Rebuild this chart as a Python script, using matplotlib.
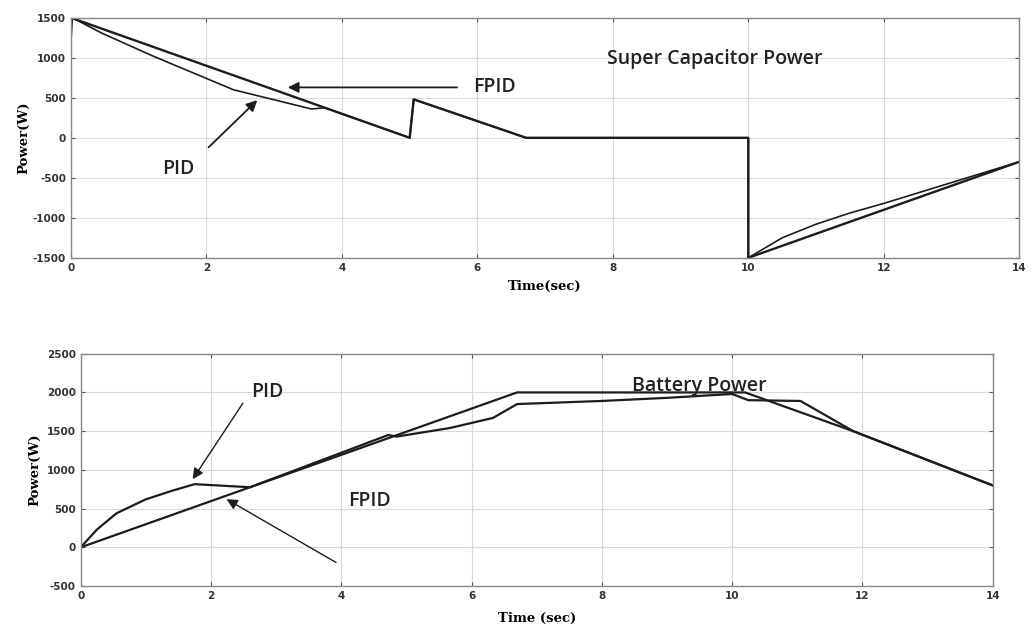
import matplotlib.pyplot as plt

plt.rcParams['axes.unicode_minus'] = False

# Super capacitor power (W) vs time (s)
t_sc_fpid = [0.0, 5.0, 5.06, 6.72, 10.0, 10.0, 14.0]
p_sc_fpid = [1500, 0, 480, 0, 0, -1500, -300]

t_sc_pid = [0.0, 0.02, 0.45, 1.2, 2.4, 3.55, 3.75, 5.0, 5.06, 6.72, 10.0, 10.0,
            10.5, 11.0, 11.5, 12.0, 13.0, 14.0]
p_sc_pid = [1220, 1500, 1310, 1025, 600, 360, 375, 0, 480, 0, 0, -1500,
            -1250, -1080, -940, -820, -560, -300]

# Battery power (W) vs time (s)
t_bat_fpid = [0.0, 6.7, 10.2, 11.86, 14.0]
p_bat_fpid = [0, 2000, 2000, 1500, 800]

t_bat_pid = [0.0, 0.25, 0.55, 1.0, 1.4, 1.75, 2.6, 4.72, 4.85, 5.67, 6.33, 6.7,
             8.0, 9.0, 10.0, 10.25, 11.05, 11.86, 14.0]
p_bat_pid = [0, 230, 440, 620, 730, 816, 776, 1450, 1430, 1541, 1671, 1850,
             1890, 1930, 1980, 1900, 1890, 1500, 800]

xticks = list(range(0, 15, 2))
yticks_sc = list(range(-1500, 1501, 500))
yticks_bat = list(range(-500, 2501, 500))

LINE = '#1c1c1c'
TXT = '#222222'
NOTE = dict(family='Open Sans', fontweight='semibold', fontsize=14, color=TXT,
            ha='center', va='center')

fig = plt.figure(figsize=(10.34, 6.35), dpi=100)
ax1 = fig.add_axes([0.0687, 0.594, 0.917, 0.378])
ax2 = fig.add_axes([0.078, 0.077, 0.882, 0.366])


def style(ax, yticks, ylim):
    ax.set_xlim(0, 14)
    ax.set_ylim(*ylim)
    ax.set_xticks(xticks)
    ax.set_yticks(yticks)
    ax.grid(True, color='#d9d9d9', linewidth=0.8)
    ax.tick_params(direction='in', length=3, top=True, right=True,
                   labelsize=7.5, colors='#555555', labelcolor='#333333')
    for lab in ax.get_xticklabels() + ax.get_yticklabels():
        lab.set_fontweight('bold')
    for s in ax.spines.values():
        s.set_color('#888888')
        s.set_linewidth(1.0)


def arrow(lw):
    return dict(arrowstyle='-|>', color=LINE, lw=lw, mutation_scale=16,
                shrinkA=0, shrinkB=0)


style(ax1, yticks_sc, (-1500, 1500))
ax1.plot(t_sc_pid, p_sc_pid, color=LINE, lw=1.2)
ax1.plot(t_sc_fpid, p_sc_fpid, color=LINE, lw=1.7)
ax1.set_xlabel('Time(sec)', family='DejaVu Serif', fontweight='bold', fontsize=9.5, labelpad=5)
ax1.set_ylabel('Power(W)', family='DejaVu Serif', fontweight='bold', fontsize=9.5, labelpad=2)
ax1.text(9.5, 990, 'Super Capacitor Power', **NOTE)
ax1.text(6.25, 630, 'FPID', **NOTE)
ax1.annotate('', xy=(3.2, 630), xytext=(5.7, 630), arrowprops=arrow(1.3))
ax1.text(1.58, -390, 'PID', **NOTE)
ax1.annotate('', xy=(2.75, 470), xytext=(2.03, -120), arrowprops=arrow(1.3))

style(ax2, yticks_bat, (-500, 2500))
ax2.plot(t_bat_pid, p_bat_pid, color=LINE, lw=1.6)
ax2.plot(t_bat_fpid, p_bat_fpid, color=LINE, lw=1.6)
ax2.set_xlabel('Time (sec)', family='DejaVu Serif', fontweight='bold', fontsize=9.5, labelpad=8)
ax2.set_ylabel('Power(W)', family='DejaVu Serif', fontweight='bold', fontsize=9.5, labelpad=4)
ax2.text(9.5, 2080, 'Battery Power', **NOTE)
ax2.text(2.87, 2010, 'PID', **NOTE)
ax2.annotate('', xy=(1.72, 880), xytext=(2.49, 1860), arrowprops=arrow(1.0))
ax2.text(4.44, 600, 'FPID', **NOTE)
ax2.annotate('', xy=(2.24, 622), xytext=(3.92, -195), arrowprops=arrow(1.0))

fig.savefig('out.png', dpi=100)
